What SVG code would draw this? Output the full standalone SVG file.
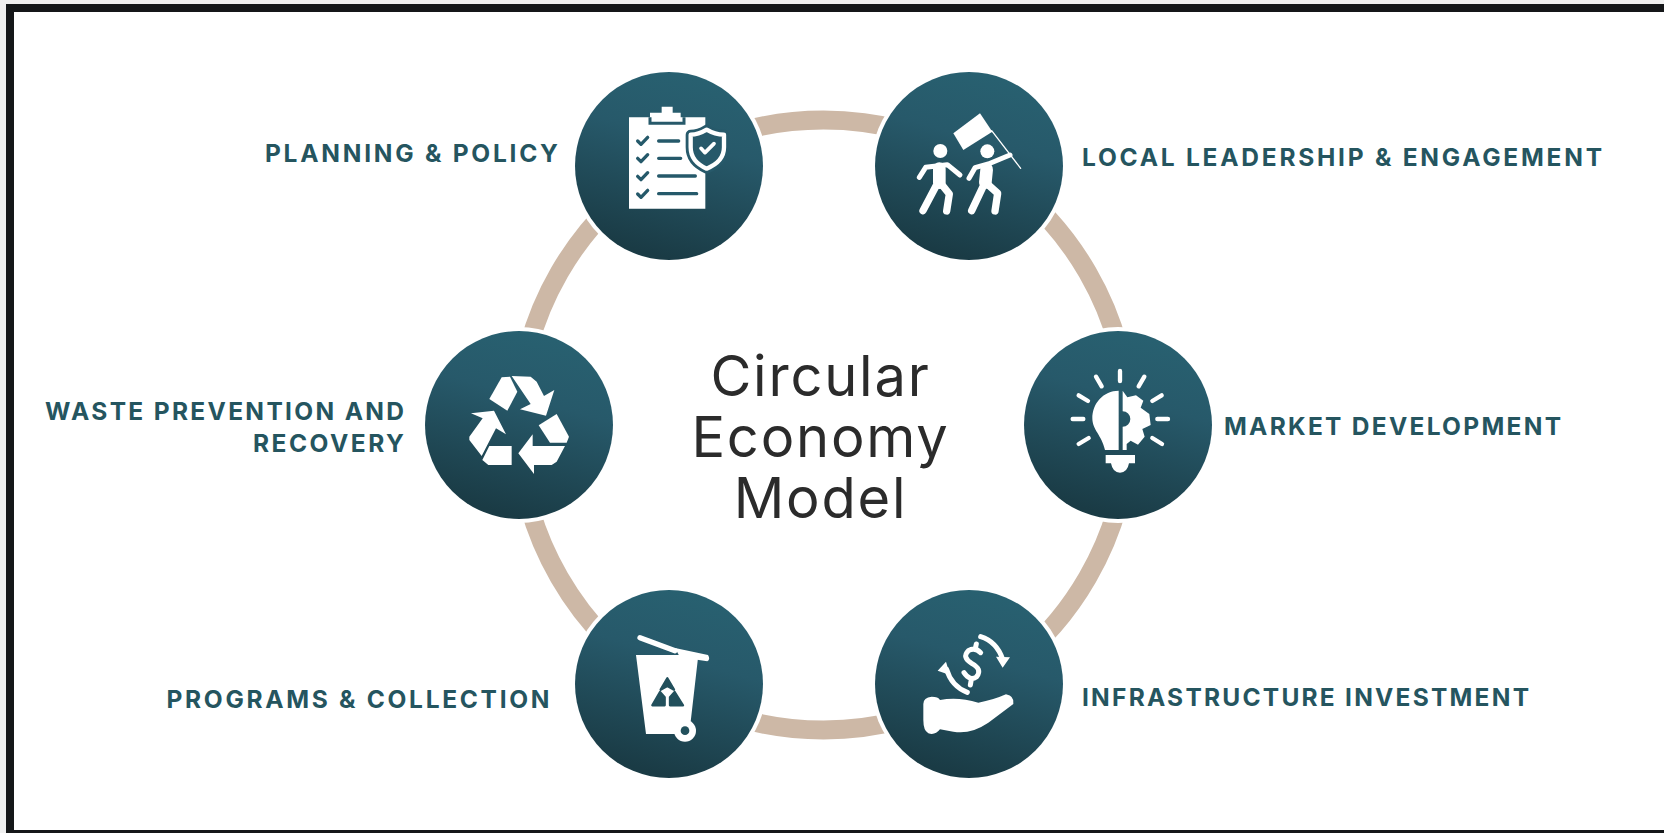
<svg xmlns="http://www.w3.org/2000/svg" width="1664" height="833" viewBox="0 0 1664 833">
<style>
.lbl{font-family:"Inter","Liberation Sans",sans-serif;font-weight:700;font-size:24.5px;fill:#25555f}
.ttl{font-family:"Inter","Liberation Sans",sans-serif;font-weight:400;font-size:56px;letter-spacing:1.8px;fill:#2b2b2b}
.arc{fill:none;stroke:#cdb8a6;stroke-width:19}
.halo{fill:#fff}
.disc{fill:url(#g)}
.w{fill:#fff}
.ws{fill:none;stroke:#fff;stroke-linecap:round;stroke-linejoin:round}
.d{fill:none;stroke:#25596a;stroke-linecap:round;stroke-linejoin:round}
</style>
<defs>
<linearGradient id="g" x1="0.68" y1="0.05" x2="0.42" y2="0.97">
<stop offset="0" stop-color="#286070"/><stop offset="0.35" stop-color="#27596a"/><stop offset="1" stop-color="#1a3b45"/>
</linearGradient>
</defs>
<rect width="1664" height="833" fill="#f0f0f0"/>
<rect x="10" y="8" width="1670" height="826" fill="#fff" stroke="#151719" stroke-width="8"/>
<g id="connectors" transform="translate(4.5 0)">
<path class="arc" d="M666.5 160.9A305 305 0 0 1 971.5 160.9"/>
<path class="arc" d="M971.5 160.9A305 305 0 0 1 1124 425"/>
<path class="arc" d="M1124 425A305 305 0 0 1 971.5 689.1"/>
<path class="arc" d="M971.5 689.1A305 305 0 0 1 666.5 689.1"/>
<path class="arc" d="M666.5 689.1A305 305 0 0 1 514 425"/>
<path class="arc" d="M514 425A305 305 0 0 1 666.5 160.9"/>
</g>
<g id="node-planning">
<circle class="halo" cx="669" cy="166" r="98"/><circle class="disc" cx="669" cy="166" r="94"/>
<g transform="translate(560 60) scale(.33333)">
<path class="w" d="M207 172H270V158H305V140H338V158H362V172H436V446H207Z"/>
<path d="M270 172V190H372V172" fill="none" stroke="#27596a" stroke-width="9"/>
<path d="M440 209Q415 224 392 224V262Q392 305 440 326Q492 305 492 262V224Q465 224 440 209Z" fill="#27596a" stroke="#27596a" stroke-width="30" stroke-linejoin="round"/>
<path d="M440 209Q415 224 392 224V262Q392 305 440 326Q492 305 492 262V224Q465 224 440 209Z" fill="#27596a" stroke="#fff" stroke-width="13" stroke-linejoin="round"/>
<path class="ws" stroke-width="11" d="M423 265l12 13 27-27"/>
<g class="d" stroke-width="10">
<path d="M233 243l10 10 20-21M233 295l10 10 20-21M233 349l10 10 20-21M233 402l10 10 20-21"/>
<path d="M296 243H356M296 295H362M296 348H406M296 401H410"/>
</g>
</g>
</g>
<g id="node-leadership">
<circle class="halo" cx="969" cy="166" r="98"/><circle class="disc" cx="969" cy="166" r="94"/>
<g transform="translate(860 60) scale(.33333)">
<path class="w" d="M280 220L360 160L397 215L310 270Z"/>
<path class="ws" stroke-width="4" d="M395 212L482 325"/>
<circle class="w" cx="241" cy="273" r="21"/><circle class="w" cx="382" cy="274" r="21"/>
<g class="ws">
<path stroke-width="15" d="M178 352L197 322L262 314L300 345"/>
<path stroke-width="38" d="M238 326L238 368"/>
<path stroke-width="22" d="M228 378L189 452M244 372L268 402L260 453"/>
<path stroke-width="15" d="M327 355L345 323L385 312L450 285"/>
<path stroke-width="38" d="M380 328L376 368"/>
<path stroke-width="22" d="M368 382L335 452M382 372L413 400L405 453"/>
</g>
</g>
</g>
<g id="node-market">
<circle class="halo" cx="1118" cy="425" r="98"/><circle class="disc" cx="1118" cy="425" r="94"/>
<g transform="translate(1010 320) scale(.33333)">
<path class="ws" stroke-width="13" d="M330 153V183M258 170L275 199M403 170L386 199M206 226L234 243M455 226L427 243M188 297H220M442 297H474M206 372L236 354M456 372L427 354"/>
<path class="w" d="M326 212C280 212 247 250 247 295C247 330 275 345 285 390H326Z"/>
<path class="w" d="M338 212L352 232L378 226L400 242L392 263L418 282L422 315L397 327L404 350L384 374L362 362L350 372V390H338V320A23 23 0 0 0 338 274Z"/>
<path class="w" d="M287 405H375V430H357Q352 458 330 458Q308 458 303 430H287Z"/>
</g>
</g>
<g id="node-infrastructure">
<circle class="halo" cx="969" cy="684" r="98"/><circle class="disc" cx="969" cy="684" r="94"/>
<g transform="translate(860 580) scale(.33333)">
<path class="w" d="M190 372Q190 352 215 350Q235 350 240 360Q295 350 355 368Q400 360 438 343Q464 348 460 372L385 428Q330 465 280 455L240 448Q225 467 205 460Q190 452 190 420Z"/>
<path class="ws" stroke-width="15" d="M322 337Q274 318 260 268M362 170Q410 185 428 238"/>
<path class="w" d="M233 272L258 245L270 285ZM408 230L450 232L428 263Z"/>
<path class="ws" stroke-width="15" d="M362 218Q345 200 325 212Q305 232 335 250Q368 268 350 290Q330 305 312 278M349 192L346 205M334 298L331 315"/>
</g>
</g>
<g id="node-programs">
<circle class="halo" cx="669" cy="684" r="98"/><circle class="disc" cx="669" cy="684" r="94"/>
<g transform="translate(560 580) scale(.33333)">
<path class="ws" stroke-width="16" d="M240 173L345 212"/>
<path class="w" d="M345 204L444 225Q452 238 442 244L360 232Z"/>
<path class="w" d="M228 225H415L392 425H360L355 462H258Z"/>
<circle class="w" cx="375" cy="452" r="33"/><circle cx="375" cy="452" r="13" fill="#22505c"/>
<path fill="#22505c" stroke="#22505c" stroke-width="7" stroke-linejoin="round" d="M322 295L342 329L322 318L302 329ZM300 336L314 352V376H277ZM344 336L369 376H330V352Z"/>
</g>
</g>
<g id="node-waste">
<circle class="halo" cx="519" cy="425" r="98"/><circle class="disc" cx="519" cy="425" r="94"/>
<g transform="translate(410 320) scale(.33333)">
<path class="w" d="M275 172L300 170L322 215L292 272L238 237Z"/>
<path class="w" d="M305 168L362 170L380 185L402 228L433 210L408 287L330 268L362 252Z"/>
<path class="w" d="M440 282L477 350L470 368H420L386 316Z"/>
<path class="w" d="M465 378L440 425L425 435H372V462L325 400L368 343V378Z"/>
<path class="w" d="M238 378H305V435H235L217 420Z"/>
<path class="w" d="M183 280L252 272L288 343L258 325L215 408L178 360V350L218 295Z"/>
</g>
</g>
<g id="labels">
<text class="lbl" x="265" y="161.5" textLength="293">PLANNING &amp; POLICY</text>
<text class="lbl" x="1082" y="165.5" textLength="520">LOCAL LEADERSHIP &amp; ENGAGEMENT</text>
<text class="lbl" x="1224" y="435" textLength="337">MARKET DEVELOPMENT</text>
<text class="lbl" x="1082" y="706" textLength="447">INFRASTRUCTURE INVESTMENT</text>
<text class="lbl" x="166.5" y="708" textLength="383">PROGRAMS &amp; COLLECTION</text>
<text class="lbl" x="45" y="420" textLength="359">WASTE PREVENTION AND</text>
<text class="lbl" x="253" y="452" textLength="151">RECOVERY</text>
</g>
<g id="title">
<text class="ttl" x="820.5" y="396" text-anchor="middle">Circular</text>
<text class="ttl" x="820.5" y="457" text-anchor="middle">Economy</text>
<text class="ttl" x="820.5" y="518" text-anchor="middle">Model</text>
</g>
</svg>
